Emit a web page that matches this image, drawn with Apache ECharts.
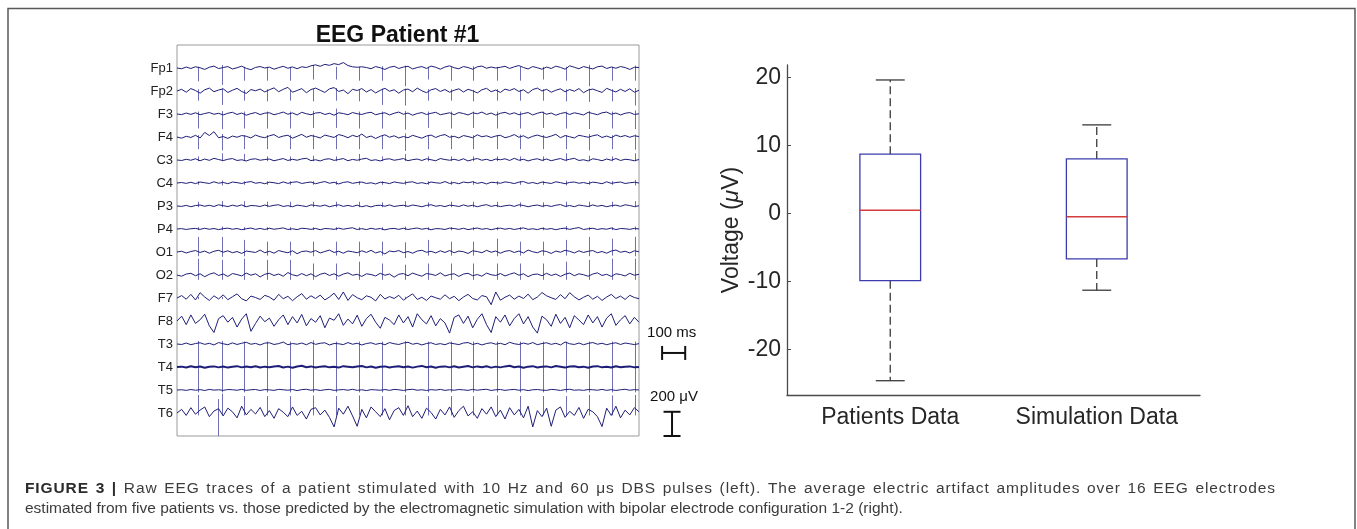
<!DOCTYPE html>
<html><head><meta charset="utf-8">
<script src="https://cdn.jsdelivr.net/npm/echarts@6/dist/echarts.min.js"></script>
<style>html,body{margin:0;padding:0;background:#fff}#c{width:1357px;height:529px}</style>
</head><body><div id="c"></div>
<script>
// ---------- EEG data (µV, relative to each channel baseline) ----------
const channels = ['Fp1','Fp2','F3','F4','C3','C4','P3','P4','O1','O2','F7','F8','T3','T4','T5','T6'];
const timeStep = 0.02; // seconds between samples, 0 .. 2 s
const trFp1 = [0,-6,8,-4,10,2,-12,6,16,-5, 4,12,-8,2,15,-3,-14,5,12,0, 7,-10,3,14,-2,9,-6,10,4,18, 26,14,30,22,36,28,45,20,10,6, 10,4,-6,12,2,-12,6,14,-4,8, 14,-8,4,12,-4,16,6,-10,8,18, 2,-6,12,4,-10,10,16,-2,8,0, 6,14,-4,10,20,4,-8,12,2,-10, 8,-4,15,5,-10,18,6,-6,12,2, -8,10,16,-4,8,-2,12,4,-12,6, 4];
const trFp2 = [0,14,-10,20,4,-18,10,24,-6,8, 18,-12,6,22,-4,-20,12,2,16,-8, 10,26,-6,14,30,-10,4,20,-14,12, 24,6,-12,18,28,-4,8,-22,14,4, 20,-8,12,-16,6,22,-2,10,-18,8, 16,-6,24,2,-14,10,20,-4,12,-10, 6,18,-8,14,2,-16,10,22,-6,8, -12,16,4,20,-4,10,-18,12,24,0, 14,-10,6,18,-6,12,-2,20,-14,8, 16,2,-12,22,6,-8,14,-4,18,-10, 6];
const trF3 = [0,-5,8,-3,10,-6,4,12,-2,6, -8,6,14,-4,8,-10,3,12,-5,7, 10,-6,4,16,-2,9,-8,14,2,-6, 8,12,-4,6,-10,10,4,-6,12,2, -4,8,14,-6,4,10,-8,6,16,-2, 8,-10,4,12,-4,6,14,-6,2,10, -6,12,4,-8,10,2,16,-4,8,-10, 6,14,-2,10,-6,4,12,-8,6,16, -2,8,-10,4,12,-4,10,2,-8,14, 4,-6,10,16,-2,8,-8,6,12,-4, 2];
const trF4 = [0,-10,6,-4,14,-8,38,12,44,-6, 4,-12,8,-2,12,6,-8,16,2,-6, 10,20,-4,8,14,-10,6,22,-2,12, 4,-8,16,6,-4,20,10,-6,14,2, 24,-4,8,-12,6,18,-2,10,-8,4, -6,14,2,-10,8,16,-4,12,20,-2, 6,-8,12,4,-6,18,2,10,-4,8, 14,-6,4,20,-2,10,-10,6,16,4, -4,8,22,-6,12,2,-8,14,6,-2, 10,18,-4,8,-6,16,2,12,-2,10, 4];
const trC3 = [0,-4,6,-2,10,-6,8,-3,14,4, -5,6,12,-4,2,-8,6,10,-2,4, 8,-6,3,12,-4,6,-2,9,14,-5, 2,-8,6,10,-3,4,12,-6,5,-2, 8,14,-4,2,-8,6,10,-2,4,12, -6,3,8,-4,10,2,-6,12,4,-2, 6,-4,10,-8,4,12,-2,6,-6,8, 2,10,-4,14,-2,6,-8,4,10,-3, 8,-6,4,12,-2,6,14,-4,2,-8, 10,4,-6,8,-2,12,-4,6,2,-6, 4];
const trC4 = [0,4,-3,6,-5,8,2,-4,10,-2, 5,-6,8,3,-4,6,12,-2,4,-6, 7,2,-5,9,-3,6,10,-4,3,8, -6,4,12,-2,6,-8,5,10,-3,4, 8,-4,2,-8,6,3,-5,9,2,-3, 6,10,-4,3,-6,8,2,-2,12,-4, 4,-6,8,2,10,-3,5,-8,6,3, -2,9,4,-5,7,12,-3,4,-6,8, 2,-4,10,3,-6,5,8,-2,4,-5, 7,2,-6,10,-3,4,8,-4,2,6, 0];
const trP3 = [0,-3,5,-6,4,8,-2,6,-4,10, 3,-5,7,-2,9,-6,4,2,-4,8, -3,6,10,-4,3,-6,7,2,-5,9, 4,-2,8,-6,3,10,-3,5,-4,7, -6,3,-8,4,6,-2,9,-4,2,6, -3,8,2,-6,5,10,-2,4,-5,7, 3,-4,9,-2,6,-6,4,11,-3,5, -5,2,7,-3,10,4,-6,3,8,-2, 5,-4,6,12,-3,4,-6,8,2,-4, 9,-2,5,-6,3,7,-3,10,4,-5, 2];
const trP4 = [0,3,-4,2,5,-3,6,-2,4,-5, 3,7,-2,4,-6,2,8,-3,5,-4, 6,-2,3,9,-4,2,-5,6,3,-3, 5,-6,4,2,-3,7,-2,5,10,-4, 3,-5,6,-2,4,-7,2,5,-3,6, -4,3,8,-2,5,-6,3,2,-4,7, 4,-3,6,-5,2,8,-2,4,-6,3, 7,-2,5,-4,3,9,-3,2,-5,6, -2,4,-6,3,7,-3,5,12,-4,2, 6,-4,3,-2,8,-5,4,2,-3,5, 0];
const trO1 = [0,6,-8,4,12,-4,8,-10,6,14, -2,10,-6,4,-12,8,2,-4,16,-6, 6,-10,12,2,-6,10,-14,4,8,-2, 12,-8,4,16,-4,6,-10,8,2,-6, 10,-4,14,-8,4,-16,8,2,12,-6, 4,-10,8,14,-2,6,-8,10,-4,12, -6,8,2,-12,10,4,-6,14,-2,8, -10,6,12,-4,8,-8,16,2,-6,10, 4,-12,8,-2,14,6,-8,10,-4,6, 12,-6,4,-10,8,16,-2,6,-8,10, 2];
const trO2 = [0,-10,8,14,-6,10,-14,6,18,-4, 8,-12,12,4,-8,16,-2,10,-16,6, 14,-4,8,-10,20,2,-8,12,-6,10, -14,6,16,-4,10,-10,8,18,-2,6, -12,10,4,-8,14,-2,8,-18,6,12, -6,16,2,-10,12,6,-4,18,-8,4, 10,-12,8,14,-6,4,-10,16,2,-4, 12,-8,6,18,-2,10,-14,4,8,-6, 14,-4,8,-12,6,16,-6,10,2,-10, 8,18,-4,6,-12,10,4,-8,14,-2, 6];
const trF7 = [0,20,-10,30,-16,44,8,-20,18,-8, 26,-14,10,34,-6,-24,16,4,-12,22, 8,-18,30,-6,14,-22,10,36,-10,18, -4,24,-16,8,40,-12,50,-20,28,2, -14,18,6,-24,30,-8,12,-4,22,-18, 10,34,-12,6,-20,16,2,-10,26,-6, 14,-22,8,30,-4,-16,20,10,-55,50, -18,6,24,-10,16,-4,32,-14,8,45, 18,2,-12,28,-6,44,10,-16,6,24, -10,14,-20,8,30,-4,16,-12,22,4, -6];
const trF8 = [0,40,-30,50,-20,10,56,-40,-95,20, 44,-10,30,-50,16,60,-85,-20,40,-6, 24,-44,10,50,-30,36,-16,54,-40,20, -10,44,-56,24,6,60,-36,16,-24,48, -44,20,56,-10,-60,30,8,-30,50,-16, 36,-50,60,10,-24,44,-40,20,-16,-100, 30,50,-20,40,-56,14,60,-30,-95,36, -10,50,-40,20,60,-24,36,-50,-100,40, 10,-44,56,-20,30,-56,44,8,-30,50, -16,36,-50,24,60,-36,10,44,-24,30, -10];
const trT3 = [0,-4,8,-6,4,10,-3,6,-8,12, 2,-6,9,-4,6,14,-2,5,-8,7, 10,-4,3,16,-6,4,-2,8,-6,12, -3,6,10,-8,4,2,-5,12,-2,6, -8,4,10,-3,6,-6,12,2,-4,8, 14,-2,6,-8,4,10,-4,3,-6,9, 2,-5,8,12,-4,6,-8,4,10,-2, 6,-6,14,2,-4,8,-2,12,-6,4, 10,-3,6,-8,16,2,-4,8,-6,5, 12,-2,6,-6,4,10,-4,8,2,-5, 3];
const trT4 = [0,3,-4,6,-2,4,-6,2,5,-3, 4,-5,2,7,-3,4,-2,6,-4,3, -2,5,8,-4,3,-6,4,10,-2,5, -4,3,6,-3,2,-5,7,3,-2,4, 8,-3,4,-6,2,5,-4,3,7,-2, 4,-5,3,9,-2,4,-6,3,5,-3, 6,-4,2,8,-3,5,-2,6,-5,3, -3,5,10,-2,4,-6,3,7,-4,2, 5,-3,8,2,-5,4,6,-2,3,-6, 4,7,-3,2,-4,6,-2,3,5,-3, 0];
const trT5 = [0,2,-3,4,-2,3,-4,5,-1,2, -3,4,2,-2,5,-3,2,4,-4,3, 1,-3,5,2,-2,4,-5,3,6,-2, 3,-4,2,5,-3,1,4,-2,6,-3, 2,-5,3,1,-2,4,-3,5,2,-4, 3,6,-2,2,-4,3,-1,5,-3,2, -2,4,1,-3,5,-2,3,6,-4,2, 4,-3,2,5,-2,3,-5,2,4,-1, -3,5,2,-4,3,6,-2,1,-3,4, 2,-2,5,-3,3,-4,2,6,-2,3, 0];
const trT6 = [0,30,-20,44,-10,24,50,-30,16,36, -24,40,10,-40,56,-16,30,-8,46,-30, 20,-44,36,6,-30,50,-20,14,-50,30, 44,-16,24,-36,-115,40,-10,56,-24,-110, 30,-40,50,10,-30,36,-56,20,44,-20, 60,-30,16,-44,40,4,-50,30,-16,50, -36,20,56,-24,10,-44,36,-10,50,-30, 24,-50,44,-16,30,-40,56,-115,20,-30, 40,-110,24,50,-36,14,-20,46,-44,30, 10,-30,-112,40,-20,56,-40,24,-16,44, 10];

// DBS stimulation artefacts (10 Hz pulses), seconds
const spikeTimes = [0.092,0.193,0.290,0.391,0.489,0.590,0.687,0.788,0.886,0.987,1.085,1.186,1.283,1.384,1.485,1.583,1.684,1.782,1.883,1.984];
// artefact excursion above / below each channel baseline (µV), one row per channel
const spikeUp = [
 [10,25,10,10,10,25,10,10,15,20,10,10,15,10,10,10,10,25,10,20],
 [15,20,10,15,10,15,25,15,20,20,15,15,10,15,10,15,15,20,15,25],
 [20,25,20,20,20,25,45,20,20,25,20,20,20,20,20,20,20,25,20,30],
 [15,25,15,15,15,20,15,15,15,30,15,15,15,15,20,15,15,25,15,20],
 [30,55,50,30,30,35,30,50,30,50,30,30,30,30,30,30,55,35,30,55],
 [15,20,15,15,15,15,15,15,15,20,15,15,15,15,15,15,20,15,15,25],
 [35,40,40,35,35,35,35,35,30,40,30,35,35,35,30,30,35,35,35,40],
 [15,20,15,15,15,15,15,15,15,20,15,15,15,15,15,15,25,15,15,20],
 [125,125,100,85,85,85,85,85,85,80,100,85,85,110,85,85,100,125,110,125],
 [135,125,135,125,125,95,95,110,95,85,95,95,95,95,95,95,110,125,135,135],
 [10,10,0,0,0,0,0,0,0,10,0,0,0,0,0,0,0,0,0,0],
 [0,0,0,0,0,0,0,0,0,0,0,0,0,0,0,0,0,0,0,0],
 [25,25,20,20,20,30,20,20,20,25,20,20,20,20,20,20,20,20,20,20],
 [10,10,10,10,10,10,10,10,10,10,10,10,10,10,10,10,10,10,10,10],
 [10,10,10,10,10,10,10,10,10,10,10,10,10,10,10,10,10,10,10,10],
 [150,160,140,140,140,145,140,145,140,150,140,140,140,145,140,140,140,150,145,150]
];
const spikeDown = [
 [110,140,105,105,105,95,95,105,105,150,95,105,105,105,105,95,105,150,105,105],
 [80,115,80,85,80,85,80,85,115,120,80,80,85,80,80,80,85,90,85,120],
 [120,125,120,120,120,115,115,120,120,130,115,120,115,120,120,115,120,125,120,125],
 [100,110,100,100,100,100,100,100,100,115,100,100,100,100,100,100,100,110,100,105],
 [10,10,10,10,10,10,10,10,10,10,10,10,10,10,10,10,10,10,10,10],
 [15,20,15,15,15,15,15,15,15,15,15,15,15,15,15,15,20,15,15,20],
 [10,10,10,10,10,10,10,10,10,10,10,10,10,10,10,10,10,10,10,10],
 [10,10,10,10,10,10,10,10,10,10,10,10,10,10,10,10,10,10,10,10],
 [35,40,35,30,30,35,30,35,30,50,30,30,30,35,30,30,30,35,30,35],
 [40,40,40,40,40,40,40,40,40,40,40,40,40,40,40,40,40,40,40,40],
 [10,10,0,0,0,0,0,0,0,10,0,0,0,0,0,0,0,0,0,0],
 [0,0,0,0,0,0,0,0,0,0,0,0,0,0,0,0,0,0,0,0],
 [190,195,190,190,190,190,190,190,190,195,190,190,190,190,190,190,190,195,190,190],
 [185,190,185,185,185,185,185,185,185,190,185,185,185,185,185,185,185,190,185,185],
 [20,20,20,20,20,20,20,20,20,20,20,20,20,20,20,20,20,20,20,20],
 [20,20,20,20,20,20,20,20,20,20,20,20,20,20,20,20,20,20,20,20]
];
const extraSpikes = [[15, 0.176, 115, 190]]; // [channel, time s, up µV, down µV]
const scaleBarTime = [2.1, 2.2];      // 100 ms
const scaleBarVolt = [-2840, -3040];  // 200 µV

// ---------- Box plot data (µV) ----------
const boxCategories = ['Patients Data', 'Simulation Data'];
const boxLow    = [-24.6, -11.3];
const boxQ1     = [-9.9, -6.7];
const boxMedian = [0.45, -0.5];
const boxQ3     = [8.7, 8.0];
const boxHigh   = [19.6, 13.0];
const voltTicks = [-20, -10, 0, 10, 20];

// ---------- caption ----------
const captionBold = 'FIGURE 3 |';
const captionLine1 = 'Raw EEG traces of a patient stimulated with 10 Hz and 60 μs DBS pulses (left). The average electric artifact amplitudes over 16 EEG electrodes';
const captionLine2 = 'estimated from five patients vs. those predicted by the electromagnetic simulation with bipolar electrode configuration 1-2 (right).';

// ---------- build ----------
const FONT = 'Liberation Sans, Arial, Helvetica, sans-serif';
const channelGap = 190;
const traces = [trFp1,trFp2,trF3,trF4,trC3,trC4,trP3,trP4,trO1,trO2,trF7,trF8,trT3,trT4,trT5,trT6];

const eegSeries = traces.map((tr, c) => ({
  type: 'line', xAxisIndex: 0, yAxisIndex: 0, symbol: 'none', silent: true, z: 3,
  data: tr.map((v, i) => [+(i * timeStep).toFixed(3), -c * channelGap + v]),
  lineStyle: { color: '#1e1e78', width: channels[c] === 'T4' ? 2 : 1 }
}));

const spikeData = [];
channels.forEach((ch, c) => {
  const base = -c * channelGap;
  spikeTimes.forEach((t, k) => {
    const up = spikeUp[c][k], dn = spikeDown[c][k];
    if (up + dn > 0) spikeData.push([t, base + up, base - dn]);
  });
});
extraSpikes.forEach(([c, t, up, dn]) => spikeData.push([t, -c * channelGap + up, -c * channelGap - dn]));

// justified first caption line (letter + word spacing, as typeset)
const CAP_SIZE = 15.5;
const capBoldFont = 'bold ' + CAP_SIZE + 'px ' + FONT;
const capFont = CAP_SIZE + 'px ' + FONT;
const LS = 0.9;
const mctx = document.createElement('canvas').getContext('2d');
const words1 = captionBold.split(' ').map(w => ({ w, font: capBoldFont, fill: '#2b2b2b' }))
  .concat(captionLine1.split(' ').map(w => ({ w, font: capFont, fill: '#3c3c3c' })));
words1.forEach(o => {
  mctx.font = o.font;
  o.chars = Array.from(o.w).map(ch => ({ ch, width: mctx.measureText(ch).width }));
  o.width = o.chars.reduce((s, c) => s + c.width, 0) + LS * (o.chars.length - 1);
});
const capLeft = 25, capRight = 1275;
const gap = (capRight - capLeft - words1.reduce((s, o) => s + o.width, 0)) / (words1.length - 1);
const captionGraphics = [];
let cx0 = capLeft;
words1.forEach(o => {
  let x = cx0;
  o.chars.forEach(c => {
    captionGraphics.push({ type: 'text', silent: true, style: { x: x, y: 489, text: c.ch, font: o.font, fill: o.fill, verticalAlign: 'middle' } });
    x += c.width + LS;
  });
  cx0 += o.width + gap;
});
captionGraphics.push({ type: 'text', silent: true, style: { x: capLeft, y: 509, text: captionLine2, font: capFont, fill: '#3c3c3c', verticalAlign: 'middle' } });

const chart = echarts.init(document.getElementById('c'), null, { renderer: 'canvas' });
chart.setOption({
  animation: false,
  backgroundColor: '#fff',
  grid: [
    { left: 177, top: 45, width: 462, height: 391, show: true, borderColor: '#9a9a9a', borderWidth: 1, backgroundColor: 'transparent' },
    { left: 787, top: 65, width: 413, height: 330 }
  ],
  xAxis: [
    { type: 'value', gridIndex: 0, min: 0, max: 2.0, show: false },
    { type: 'category', gridIndex: 1, data: boxCategories, boundaryGap: true,
      axisLine: { onZero: false, lineStyle: { color: '#4a4a4a', width: 1.3 } },
      axisTick: { inside: true, length: 4, alignWithLabel: true, lineStyle: { color: '#4a4a4a' } },
      axisLabel: { interval: 0, fontSize: 23, color: '#262626', fontFamily: FONT, margin: 11 } }
  ],
  yAxis: [
    { type: 'value', gridIndex: 0, min: -16 * channelGap, max: channelGap, interval: channelGap,
      axisLine: { show: false }, axisTick: { show: false }, splitLine: { show: false },
      axisLabel: { fontSize: 13, color: '#222', fontFamily: FONT, margin: 4,
        formatter: v => { const k = Math.round(-v / channelGap); return (v <= 0 && k < channels.length) ? channels[k] : ''; } } },
    { type: 'value', gridIndex: 1, min: -26.7, max: 21.8,
      name: 'Voltage ({i|μ}V)', nameLocation: 'middle', nameGap: 44, nameRotate: 90,
      nameTextStyle: { fontSize: 23, color: '#262626', fontFamily: FONT, rich: { i: { fontSize: 23, fontStyle: 'italic', color: '#262626', fontFamily: FONT } } },
      axisLine: { show: true, onZero: false, lineStyle: { color: '#4a4a4a', width: 1.3 } },
      axisTick: { show: true, inside: true, length: 4, customValues: voltTicks, lineStyle: { color: '#4a4a4a' } },
      splitLine: { show: false },
      axisLabel: { fontSize: 23, color: '#262626', fontFamily: FONT, margin: 6, customValues: voltTicks,
        formatter: v => (Math.abs(v % 10) < 1e-6 ? String(v) : '') } }
  ],
  series: [
    ...eegSeries,
    { type: 'custom', xAxisIndex: 0, yAxisIndex: 0, silent: true, z: 2,
      data: spikeData, encode: { x: 0, y: [1, 2] },
      renderItem: (params, api) => {
        const p1 = api.coord([api.value(0), api.value(1)]);
        const p2 = api.coord([api.value(0), api.value(2)]);
        const x = Math.round(p1[0]) + 0.5;
        return { type: 'line', shape: { x1: x, y1: p1[1], x2: x, y2: p2[1] }, style: { stroke: '#6f6fb6', lineWidth: 1 } };
      } },
    { type: 'custom', xAxisIndex: 0, yAxisIndex: 0, silent: true, clip: false,
      data: [[scaleBarTime[0], scaleBarTime[1], scaleBarVolt[0], scaleBarVolt[1]]],
      encode: { x: [0, 1], y: [2, 3] },
      renderItem: (params, api) => {
        const hLevel = -2354, iTime = 2.143;
        const a = api.coord([api.value(0), hLevel]);
        const b = api.coord([api.value(1), hLevel]);
        const t = api.coord([iTime, api.value(2)]);
        const u = api.coord([iTime, api.value(3)]);
        const st = { stroke: '#111', lineWidth: 2 };
        return { type: 'group', children: [
          { type: 'line', shape: { x1: a[0], y1: a[1], x2: b[0], y2: b[1] }, style: st },
          { type: 'line', shape: { x1: a[0], y1: a[1] - 7, x2: a[0], y2: a[1] + 7 }, style: st },
          { type: 'line', shape: { x1: b[0], y1: b[1] - 7, x2: b[0], y2: b[1] + 7 }, style: st },
          { type: 'line', shape: { x1: t[0], y1: t[1], x2: u[0], y2: u[1] }, style: st },
          { type: 'line', shape: { x1: t[0] - 8.5, y1: t[1], x2: t[0] + 8.5, y2: t[1] }, style: st },
          { type: 'line', shape: { x1: u[0] - 8.5, y1: u[1], x2: u[0] + 8.5, y2: u[1] }, style: st },
          { type: 'text', style: { x: (a[0] + b[0]) / 2 - 2, y: a[1] - 20, text: '100 ms', fill: '#111', font: '15px ' + FONT, align: 'center', verticalAlign: 'middle' } },
          { type: 'text', style: { x: t[0] + 2, y: t[1] - 15, text: '200 μV', fill: '#111', font: '15px ' + FONT, align: 'center', verticalAlign: 'middle' } }
        ] };
      } },
    { type: 'custom', xAxisIndex: 1, yAxisIndex: 1, silent: true,
      data: boxCategories.map((c, i) => [i, boxLow[i], boxQ1[i], boxMedian[i], boxQ3[i], boxHigh[i]]),
      encode: { x: 0, y: [1, 2, 3, 4, 5] },
      renderItem: (params, api) => {
        const i = api.value(0);
        const band = api.size([1, 0])[0];
        const bw = band * 0.294, cw = band * 0.14;
        const cx = api.coord([i, 0])[0];
        const y = k => api.coord([i, api.value(k)])[1];
        const yl = y(1), yq1 = y(2), ym = y(3), yq3 = y(4), yh = y(5);
        const dash = { stroke: '#3a3a3a', lineWidth: 1.3, lineDash: [8, 4] };
        const solid = { stroke: '#3a3a3a', lineWidth: 1.3 };
        return { type: 'group', children: [
          { type: 'line', shape: { x1: cx, y1: yq3, x2: cx, y2: yh }, style: dash },
          { type: 'line', shape: { x1: cx, y1: yq1, x2: cx, y2: yl }, style: dash },
          { type: 'line', shape: { x1: cx - cw / 2, y1: yh, x2: cx + cw / 2, y2: yh }, style: solid },
          { type: 'line', shape: { x1: cx - cw / 2, y1: yl, x2: cx + cw / 2, y2: yl }, style: solid },
          { type: 'rect', shape: { x: cx - bw / 2, y: yq3, width: bw, height: yq1 - yq3 }, style: { fill: 'none', stroke: '#3c3cae', lineWidth: 1.3 } },
          { type: 'line', shape: { x1: cx - bw / 2, y1: ym, x2: cx + bw / 2, y2: ym }, style: { stroke: '#d23c3c', lineWidth: 1.3 } }
        ] };
      } }
  ],
  graphic: [
    { type: 'polyline', silent: true, shape: { points: [[8, 560], [8, 8.5], [1355, 8.5], [1355, 560]] }, style: { stroke: '#5a5a5a', lineWidth: 1.5, fill: 'none' } },
    { type: 'text', silent: true, style: { x: 397.5, y: 36, text: 'EEG Patient #1', font: 'bold 23px ' + FONT, fill: '#111', align: 'center', verticalAlign: 'middle' } },
    ...captionGraphics
  ]
});
</script></body></html>
